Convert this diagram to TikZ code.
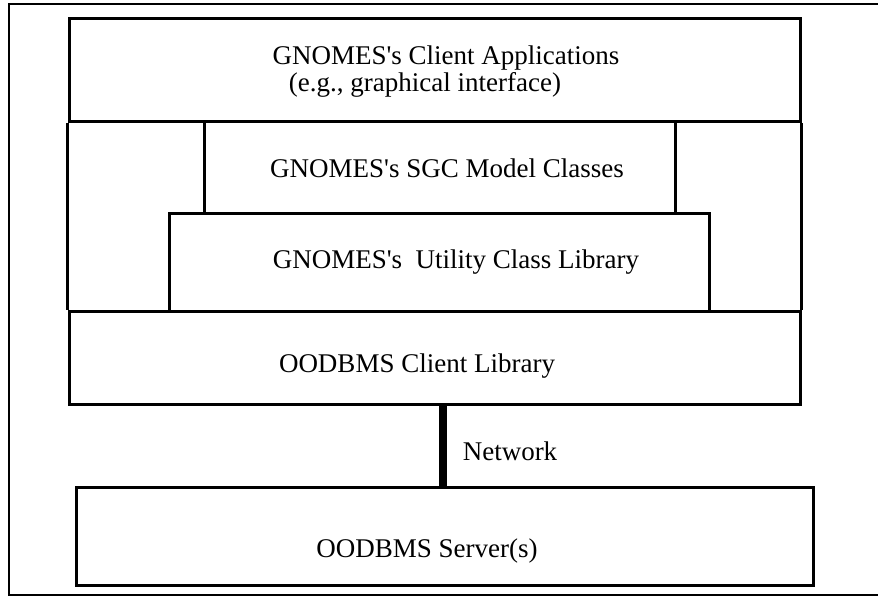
\documentclass[tikz,border=0pt]{standalone}
\usepackage{fontspec}
\newfontfamily\labelfont{Liberation Serif}
\usetikzlibrary{positioning, calc}

\begin{document}
\begin{tikzpicture}[
    x=1pt, y=-1pt,
    layer/.style={rectangle, draw=black, line width=3pt, fill=white,
                  inner sep=0pt},
    lbl/.style={font=\labelfont\fontsize{27}{27}\selectfont,
                inner sep=0pt, anchor=base, align=center},
  ]
    \useasboundingbox (0,0) rectangle (878,599);

    % outer frame (right side runs off the page)
    \draw[line width=2.5pt] (885,4) -- (9,4) -- (9,595) -- (885,595);

    % client side stack
    \node[layer, minimum width=731pt, minimum height=93pt] (clientlib)
      at (434.5,357.5) {};
    \node[layer, minimum width=731pt, minimum height=103pt] (apps)
      at (434.5,70.5) {};
    \node[layer, minimum width=540pt, minimum height=98pt] (util)
      at (439,262) {};
    \node[layer, minimum width=471pt, minimum height=91pt] (sgc)
      at (439.5,167.5) {};
    \draw[line width=3pt] (apps.south west) -- (clientlib.north west);
    \draw[line width=3pt] (apps.south east) -- (clientlib.north east);

    % server side
    \node[layer, minimum width=737pt, minimum height=98pt] (server)
      at (444.5,536) {};
    \coordinate (netx) at (442.5,0);
    \draw[line width=8pt] (clientlib.south -| netx) -- (server.north -| netx);

    % labels
    \node[lbl] (appsText) at (446,92)
      {GNOMES's Client Applications\\(e.g., graphical interface)\hspace*{42pt}};
    \node[lbl] (sgcText) at (447,177) {GNOMES's SGC Model Classes};
    \node[lbl] (utilText) at (456,268) {GNOMES's\ \ Utility Class Library};
    \node[lbl] (clientText) at (417,372) {OODBMS Client Library};
    \node[lbl] (netText) at (510,460) {Network};
    \node[lbl] (serverText) at (427,557) {OODBMS Server(s)};
\end{tikzpicture}
\end{document}
